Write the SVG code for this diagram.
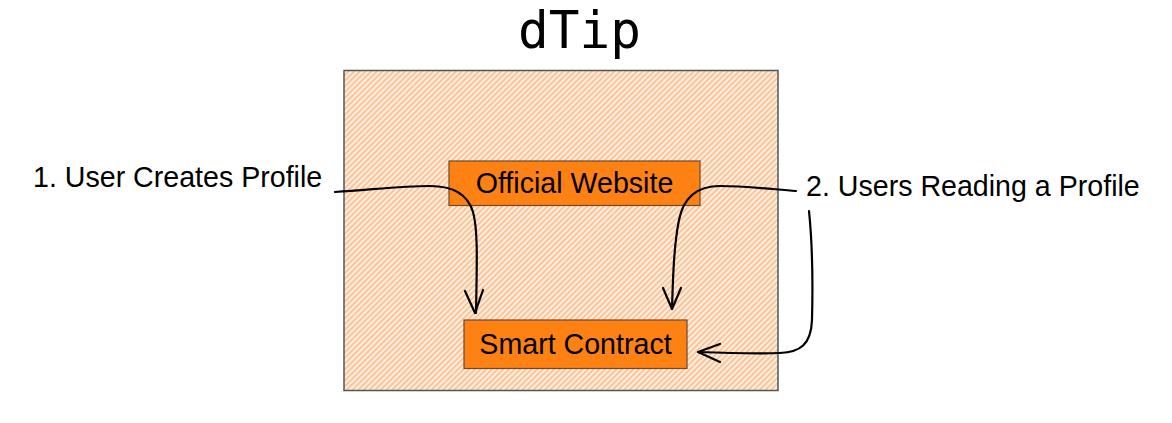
<svg xmlns="http://www.w3.org/2000/svg" width="1172" height="423" viewBox="0 0 1172 423">
  <style>
    .lbl { font-family: "Liberation Sans", Arial, sans-serif; font-size: 28.6px; fill: #000; }
    .node { fill: #fd8113; stroke: #6b4a2e; stroke-width: 1.2; }
    .conn { fill: none; stroke: #000; stroke-width: 2.2; stroke-linecap: round; stroke-linejoin: round; }
    .title { font-family: "DejaVu Sans Mono", "Liberation Mono", monospace; font-size: 51px; fill: #000; }
  </style>
  <defs>
    <pattern id="hatch" width="4" height="4" patternUnits="userSpaceOnUse" patternTransform="rotate(45)">
      <rect width="4" height="4" fill="#ffefe2"/>
      <rect x="0" y="0" width="1.8" height="4" fill="#fbc08f"/>
    </pattern>
  </defs>
  <rect width="1172" height="423" fill="#ffffff"/>
  <text class="title" x="579.5" y="47.5" text-anchor="middle">dTip</text>
  <g id="container">
    <rect x="344" y="70.5" width="434" height="320" fill="url(#hatch)" stroke="#555555" stroke-width="1.5"/>
  </g>
  <g id="official-website">
    <rect class="node" x="449" y="161" width="251" height="44.5"/>
    <text class="lbl" x="574.5" y="193" text-anchor="middle">Official Website</text>
  </g>
  <g id="smart-contract">
    <rect class="node" x="464" y="320" width="223" height="48.5"/>
    <text class="lbl" x="575.5" y="353.5" text-anchor="middle">Smart Contract</text>
  </g>
  <g id="label-1">
    <text class="lbl" x="33" y="187">1. User Creates Profile</text>
  </g>
  <g id="label-2">
    <text class="lbl" x="806" y="196">2. Users Reading a Profile</text>
  </g>
  <g id="connectors">
    <path class="conn" d="M335,192 C370,190 400,186 430,186 C455,186 468,195 473,212 C478,230 477,260 476,313"/>
    <path class="conn" d="M465,291 L475,313 L483,290"/>
    <path class="conn" d="M796,191 C770,189 745,186 720,186 C695,186 683,200 679,220 C674,245 673,275 672,309"/>
    <path class="conn" d="M663,288 L672,309 L681,288"/>
    <path class="conn" d="M809,211 C812,240 813,280 812,320 C811,345 800,352 780,353 C755,354 725,353 698,352"/>
    <path class="conn" d="M720,344 L698,352 L720,362"/>
  </g>
</svg>
